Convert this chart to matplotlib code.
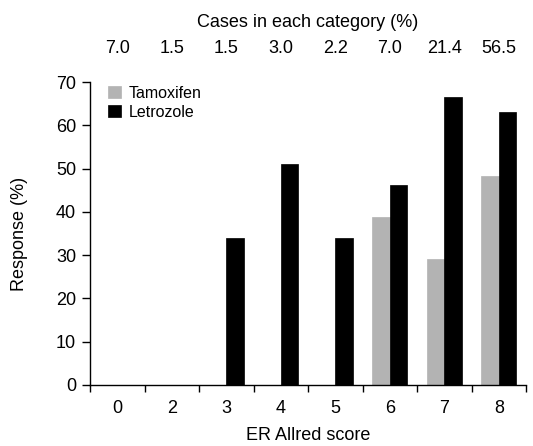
import matplotlib
matplotlib.use("Agg")
import matplotlib.pyplot as plt
import numpy as np

plt.rcParams['font.family'] = ['Liberation Sans', 'DejaVu Sans']

categories = ['0', '2', '3', '4', '5', '6', '7', '8']
cases_pct = ['7.0', '1.5', '1.5', '3.0', '2.2', '7.0', '21.4', '56.5']
tamoxifen = [0, 0, 0, 0, 0, 38.7, 29.0, 48.3]
letrozole = [0, 0, 34.0, 51.0, 34.0, 46.3, 66.5, 63.0]

fig = plt.figure(figsize=(5.33, 4.46), dpi=100)
ax = fig.add_axes([0.169, 0.137, 0.818, 0.679])

x = np.arange(len(categories))
w = 0.32
ax.bar(x - w / 2, tamoxifen, w, color='#b3b3b3', edgecolor='#b3b3b3', linewidth=0.5, label='Tamoxifen')
ax.bar(x + w / 2, letrozole, w, color='black', edgecolor='black', linewidth=0.5, label='Letrozole')

ax.set_xlim(-0.5, len(categories) - 0.5)
ax.set_ylim(0, 70)
ax.set_yticks(np.arange(0, 71, 10))
ax.set_xticks(np.arange(-0.5, len(categories), 1.0))
ax.set_xticklabels([])
ax.set_xticks(x, minor=True)
ax.set_xticklabels(categories, minor=True)
ax.tick_params(axis='x', which='minor', length=0, pad=11, labelsize=13)
ax.tick_params(axis='x', which='major', length=5, width=1, direction='out')
ax.tick_params(axis='y', length=6, width=1, labelsize=13, pad=4)

for s in ['top', 'right']:
    ax.spines[s].set_visible(False)
for s in ['left', 'bottom']:
    ax.spines[s].set_linewidth(1)

ax.set_ylabel('Response (%)', fontsize=13, labelpad=20)
ax.set_xlabel('ER Allred score', fontsize=13, labelpad=7)

for xi, lab in zip(x, cases_pct):
    ax.text(xi, 1.11, lab, transform=ax.get_xaxis_transform(), ha='center', va='center', fontsize=13)
ax.text(0.5, 1.198, 'Cases in each category (%)', transform=ax.transAxes, ha='center', va='center', fontsize=13)

ax.legend(loc='upper left', bbox_to_anchor=(0.015, 1.025), frameon=False, fontsize=11.5,
          handlelength=0.8, handleheight=0.8, handletextpad=0.5, labelspacing=0.25,
          borderaxespad=0.3)

fig.savefig('out.png', dpi=100)
